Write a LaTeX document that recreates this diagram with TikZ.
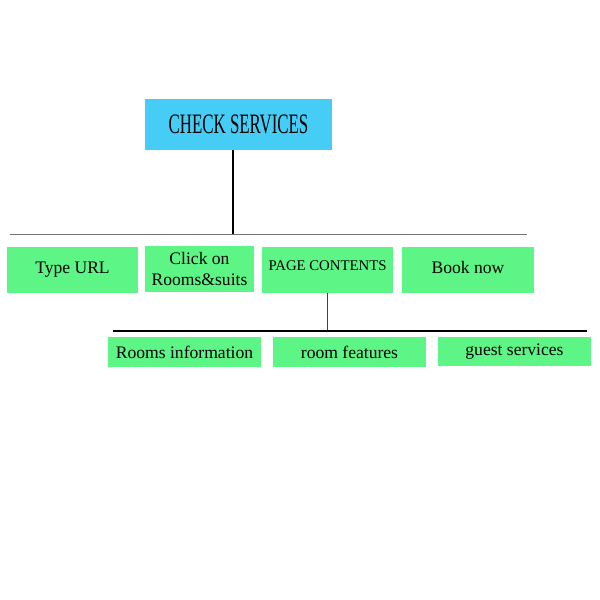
\documentclass[tikz,border=0pt]{standalone}
\usepackage{fontspec}
\setmainfont{Liberation Serif}
\newfontfamily\narrowfont[FakeStretch=0.6]{Liberation Serif}
\usetikzlibrary{positioning}

\definecolor{headcyan}{HTML}{45CDF6}
\definecolor{boxgreen}{HTML}{5CF586}

\tikzset{
    stepbox/.style={fill=boxgreen, inner sep=0pt, align=center, font=\fontsize{12.5}{15}\selectfont},
    subbox/.style={stepbox, minimum width=3.825cm, minimum height=0.75cm}
}

\begin{document}
\begin{tikzpicture}[x=0.025cm, y=-0.025cm]
    \useasboundingbox (0,0) rectangle (600,600);

    % Nodes
    \node[fill=headcyan, minimum width=4.675cm, minimum height=1.275cm, inner sep=0pt,
          font=\narrowfont\fontsize{20}{22}\selectfont] (check) at (238.5,124.5) {CHECK SERVICES};

    \node[stepbox, minimum width=3.275cm, minimum height=1.15cm] (url) at (72.5,270) {Type URL};
    \node[stepbox, minimum width=2.725cm, minimum height=1.15cm] (click) at (199.5,269) {Click on\\Rooms\&suits};
    \node[stepbox, minimum width=3.275cm, minimum height=1.15cm, font=\fontsize{10.5}{12}\selectfont,
          text height=17pt, text depth=15.7pt] (contents) at (327.5,270) {PAGE CONTENTS};
    \node[stepbox, minimum width=3.3cm, minimum height=1.15cm,
          text height=18.5pt, text depth=14.2pt] (book) at (468,270) {Book now};

    \node[subbox] (info) at (184.5,352) {Rooms information};
    \node[subbox] (features) at (349.5,352) {room features};
    \node[subbox, minimum height=0.725cm] (guest) at (514.5,351.5) {guest services};

    % Lines
    \coordinate (top left) at (10,234);
    \coordinate (top right) at (527,234);
    \coordinate (top joint) at (233,234);
    \coordinate (sub left) at (113,331);
    \coordinate (sub right) at (587,331);
    \coordinate (sub joint) at (327.5,331);

    \draw[black!55, line width=0.7pt] (top left) -- (top right);
    \draw[black, line width=1.4pt] (check.south -| top joint) -- (top joint);
    \draw[black!75, line width=0.6pt] (contents.south) -- (sub joint);
    \draw[black, line width=1.8pt] (sub left) -- (sub right);
\end{tikzpicture}
\end{document}
